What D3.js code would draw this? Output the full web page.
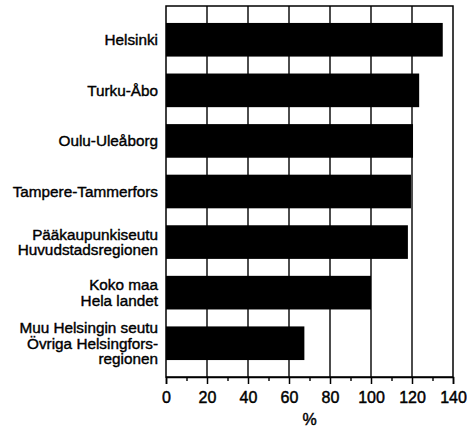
<!DOCTYPE html>
<html>
<head>
<meta charset="utf-8">
<script src="https://cdn.jsdelivr.net/npm/d3@7"></script>
<style>
  body { margin: 0; background: #fff; }
  svg text { font-family: "Liberation Sans", Arial, Helvetica, sans-serif; fill: #000; }
</style>
</head>
<body>
<div id="chart"></div>
<script>
// data
const categories = [
  ["Helsinki"],
  ["Turku-Åbo"],
  ["Oulu-Uleåborg"],
  ["Tampere-Tammerfors"],
  ["Pääkaupunkiseutu", "Huvudstadsregionen"],
  ["Koko maa", "Hela landet"],
  ["Muu Helsingin seutu", "Övriga Helsingfors-", "regionen"]
]
const values = [135, 123.5, 120.5, 119.5, 118, 100, 67.5]
const majorTicks = [0, 20, 40, 60, 80, 100, 120, 140]
const minorTicks = [10, 30, 50, 70, 90, 110, 130]
const xLabel = "%"

const W = 467, H = 429
const margin = {top: 6, right: 14, bottom: 52, left: 166}
const width = W - margin.left - margin.right
const height = H - margin.top - margin.bottom

const svg = d3.select("#chart").append("svg")
  .attr("width", W)
  .attr("height", H)
  .append("g")
  .attr("transform", "translate(" + margin.left + "," + margin.top + ")")

const x = d3.scaleLinear().domain([0, 140]).range([0, width])
const y = d3.scaleBand()
  .domain(d3.range(categories.length))
  .range([0, height])
  .paddingInner(0.335)
  .paddingOuter(0.335)

// vertical grid
svg.append("g")
  .selectAll("line")
  .data(majorTicks.filter(d => d > 0 && d < 140))
  .enter().append("line")
  .attr("x1", d => x(d)).attr("x2", d => x(d))
  .attr("y1", 0).attr("y2", height)
  .attr("stroke", "#000")
  .attr("stroke-width", 1.4)

// bars
svg.selectAll(".bar")
  .data(values)
  .enter().append("rect")
  .attr("class", "bar")
  .attr("x", 0)
  .attr("y", (d, i) => y(i))
  .attr("width", d => x(d))
  .attr("height", y.bandwidth())
  .attr("fill", "#000")

// frame
svg.append("rect")
  .attr("x", 0).attr("y", 0)
  .attr("width", width).attr("height", height)
  .attr("fill", "none")
  .attr("stroke", "#000")
  .attr("stroke-width", 1.5)

// x axis, major + minor ticks
const axisG = svg.append("g")
  .attr("transform", "translate(0," + height + ")")

axisG.append("g")
  .call(d3.axisBottom(x).tickValues(minorTicks).tickSize(4).tickFormat(""))
  .call(g => g.select(".domain").remove())
  .selectAll("line").attr("stroke-width", 1.4)

axisG.append("g")
  .call(d3.axisBottom(x).tickValues(majorTicks).tickSize(7).tickPadding(8))
  .call(g => g.select(".domain").attr("stroke-width", 1.5))
  .call(g => g.selectAll("line").attr("stroke-width", 1.5))
  .call(g => g.selectAll("text")
    .style("font-size", "16px")
    .attr("stroke", "#000").attr("stroke-width", 0.45))

axisG.append("text")
  .attr("x", width / 2)
  .attr("y", 48)
  .attr("text-anchor", "middle")
  .style("font-size", "16px")
  .attr("stroke", "#000").attr("stroke-width", 0.45)
  .text(xLabel)

// category labels
const lineH = 15.5
const lab = svg.append("g")
  .selectAll("text")
  .data(categories)
  .enter().append("text")
  .attr("text-anchor", "end")
  .attr("y", (d, i) => y(i) + y.bandwidth() / 2)
  .style("font-size", "15.3px")
  .attr("stroke", "#000").attr("stroke-width", 0.4)

lab.selectAll("tspan")
  .data(d => d.map((t, j) => ({t, j, n: d.length})))
  .enter().append("tspan")
  .attr("x", -8)
  .attr("dy", d => d.j === 0 ? ((-(d.n - 1) / 2) * lineH + 5.5) + "px" : lineH + "px")
  .text(d => d.t)
</script>
</body>
</html>
